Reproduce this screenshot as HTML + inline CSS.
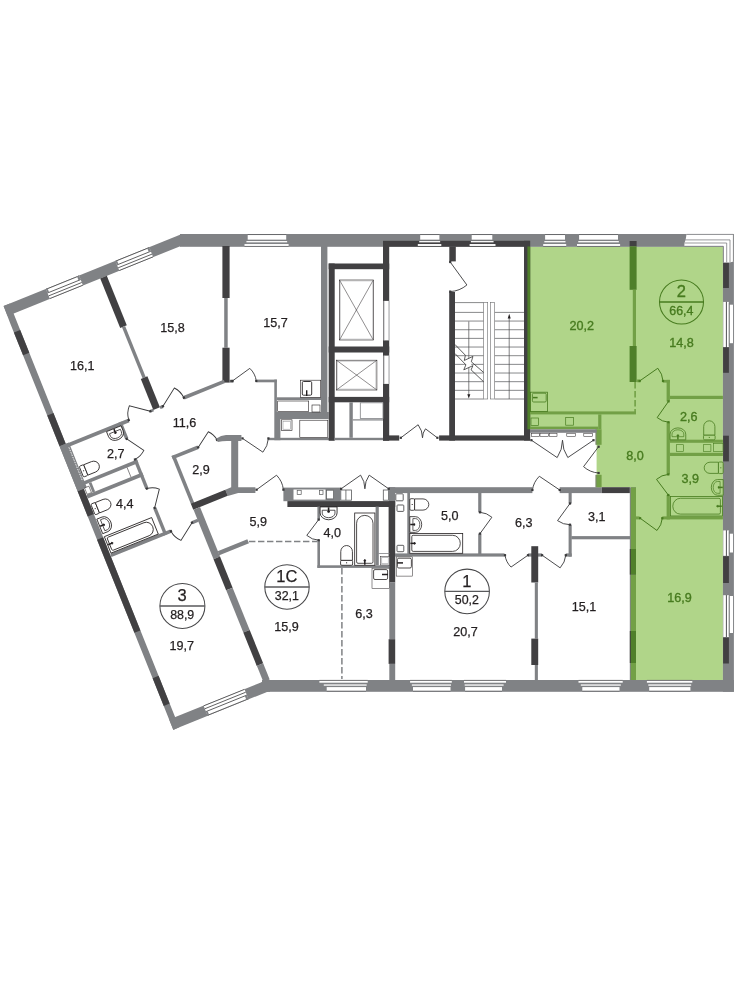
<!DOCTYPE html>
<html><head><meta charset="utf-8"><title>Floor plan</title>
<style>html,body{margin:0;padding:0;background:#fff}svg{display:block;will-change:transform}</style></head>
<body>
<svg width="741" height="1000" viewBox="0 0 741 1000" font-family="'Liberation Sans', sans-serif">
<rect width="741" height="1000" fill="#fff"/>
<polygon points="527.20,246.50 722.90,246.50 722.90,680.00 630.80,680.00 630.80,487.30 596.60,487.30 596.60,429.30 527.20,429.30" fill="#b0d589"/>
<rect x="180.00" y="234.00" width="553.90" height="12.80" fill="#808285"/>
<rect x="722.90" y="234.00" width="11.00" height="457.80" fill="#808285"/>
<rect x="262.00" y="680.00" width="471.90" height="11.80" fill="#808285"/>
<rect x="383.00" y="240.80" width="146.80" height="5.90" fill="#414042"/>
<rect x="222.40" y="246.00" width="7.20" height="52.00" fill="#414042"/>
<rect x="224.20" y="298.00" width="3.50" height="49.70" fill="#808285"/>
<rect x="222.40" y="347.70" width="7.20" height="34.90" fill="#414042"/>
<rect x="229.60" y="379.80" width="3.80" height="2.70" fill="#58595b"/>
<rect x="321.00" y="246.00" width="6.40" height="173.00" fill="#808285"/>
<rect x="274.30" y="412.00" width="54.40" height="7.00" fill="#808285"/>
<rect x="274.30" y="419.00" width="6.10" height="21.20" fill="#808285"/>
<rect x="268.20" y="437.80" width="61.30" height="2.40" fill="#808285"/>
<rect x="256.30" y="379.60" width="20.60" height="2.70" fill="#808285"/>
<rect x="274.30" y="379.60" width="2.60" height="32.40" fill="#808285"/>
<rect x="276.90" y="397.30" width="44.10" height="2.70" fill="#808285"/>
<rect x="300.60" y="380.20" width="20.10" height="17.10" fill="#fff" stroke="#231f20" stroke-width="0.60"/>
<rect x="302.30" y="381.50" width="9.40" height="13.70" fill="none" stroke="#231f20" stroke-width="0.90" rx="1.20"/>
<line x1="306.70" y1="390.20" x2="306.70" y2="396.00" stroke="#231f20" stroke-width="1.40"/>
<rect x="277.70" y="401.00" width="31.00" height="10.60" fill="#fff" stroke="#231f20" stroke-width="0.60"/>
<rect x="312.00" y="405.00" width="8.00" height="7.00" fill="#fff" stroke="#231f20" stroke-width="0.60"/>
<rect x="281.60" y="419.80" width="10.40" height="10.80" fill="#fff" stroke="#231f20" stroke-width="0.60"/>
<rect x="283.00" y="421.20" width="7.60" height="8.00" fill="none" stroke="#808285" stroke-width="0.50"/>
<rect x="299.80" y="420.20" width="28.00" height="17.20" fill="#fff" stroke="#231f20" stroke-width="0.60"/>
<rect x="328.70" y="263.50" width="6.00" height="177.30" fill="#414042"/>
<rect x="328.70" y="263.50" width="60.50" height="5.70" fill="#414042"/>
<rect x="383.00" y="241.20" width="6.20" height="199.60" fill="#414042"/>
<rect x="328.70" y="346.50" width="60.50" height="6.00" fill="#414042"/>
<rect x="328.70" y="396.90" width="60.50" height="5.40" fill="#414042"/>
<rect x="383.00" y="435.40" width="16.20" height="5.20" fill="#414042"/>
<rect x="383.60" y="300.90" width="5.60" height="39.50" fill="#fff"/>
<line x1="384.00" y1="300.90" x2="384.00" y2="340.40" stroke="#808285" stroke-width="0.60"/>
<line x1="388.90" y1="300.90" x2="388.90" y2="340.40" stroke="#808285" stroke-width="0.60"/>
<rect x="383.60" y="355.60" width="5.60" height="28.30" fill="#fff"/>
<line x1="384.00" y1="355.60" x2="384.00" y2="383.90" stroke="#808285" stroke-width="0.60"/>
<line x1="388.90" y1="355.60" x2="388.90" y2="383.90" stroke="#808285" stroke-width="0.60"/>
<rect x="339.50" y="280.00" width="33.80" height="60.00" fill="none" stroke="#231f20" stroke-width="0.60"/>
<line x1="339.50" y1="280.00" x2="373.30" y2="340.00" stroke="#231f20" stroke-width="0.50"/>
<line x1="339.50" y1="340.00" x2="373.30" y2="280.00" stroke="#231f20" stroke-width="0.50"/>
<rect x="340.50" y="281.00" width="31.80" height="58.00" fill="none" stroke="#808285" stroke-width="0.30"/>
<rect x="336.40" y="360.20" width="40.50" height="29.80" fill="none" stroke="#231f20" stroke-width="0.60"/>
<line x1="336.40" y1="360.20" x2="376.90" y2="390.00" stroke="#231f20" stroke-width="0.50"/>
<line x1="336.40" y1="390.00" x2="376.90" y2="360.20" stroke="#231f20" stroke-width="0.50"/>
<rect x="337.40" y="361.20" width="38.50" height="27.80" fill="none" stroke="#808285" stroke-width="0.30"/>
<rect x="334.80" y="437.80" width="48.20" height="2.40" fill="#808285"/>
<rect x="349.40" y="402.30" width="3.40" height="35.50" fill="#808285"/>
<rect x="360.30" y="402.80" width="22.70" height="15.70" fill="#fff" stroke="#808285" stroke-width="0.80"/>
<rect x="352.80" y="419.30" width="30.20" height="1.20" fill="#808285"/>
<rect x="449.30" y="246.50" width="6.50" height="14.90" fill="#414042"/>
<rect x="449.20" y="292.00" width="5.80" height="148.60" fill="#414042"/>
<rect x="439.10" y="435.40" width="90.90" height="5.20" fill="#414042"/>
<rect x="524.00" y="240.80" width="6.20" height="199.80" fill="#414042"/>
<rect x="527.40" y="246.50" width="2.80" height="182.80" fill="#4f7f2a"/>
<line x1="455.00" y1="302.60" x2="483.70" y2="302.60" stroke="#6a6b6d" stroke-width="0.80"/>
<line x1="455.00" y1="312.40" x2="483.70" y2="312.40" stroke="#6a6b6d" stroke-width="0.80"/>
<line x1="455.00" y1="321.06" x2="483.70" y2="321.06" stroke="#6a6b6d" stroke-width="0.80"/>
<line x1="455.00" y1="329.72" x2="483.70" y2="329.72" stroke="#6a6b6d" stroke-width="0.80"/>
<line x1="455.00" y1="338.38" x2="483.70" y2="338.38" stroke="#6a6b6d" stroke-width="0.80"/>
<line x1="455.00" y1="347.04" x2="483.70" y2="347.04" stroke="#6a6b6d" stroke-width="0.80"/>
<line x1="455.00" y1="355.70" x2="483.70" y2="355.70" stroke="#6a6b6d" stroke-width="0.80"/>
<line x1="455.00" y1="364.36" x2="483.70" y2="364.36" stroke="#6a6b6d" stroke-width="0.80"/>
<line x1="455.00" y1="373.02" x2="483.70" y2="373.02" stroke="#6a6b6d" stroke-width="0.80"/>
<line x1="455.00" y1="381.68" x2="483.70" y2="381.68" stroke="#6a6b6d" stroke-width="0.80"/>
<line x1="455.00" y1="390.34" x2="483.70" y2="390.34" stroke="#6a6b6d" stroke-width="0.80"/>
<line x1="455.00" y1="399.00" x2="483.70" y2="399.00" stroke="#6a6b6d" stroke-width="0.80"/>
<line x1="494.60" y1="312.40" x2="524.00" y2="312.40" stroke="#6a6b6d" stroke-width="0.80"/>
<line x1="494.60" y1="321.06" x2="524.00" y2="321.06" stroke="#6a6b6d" stroke-width="0.80"/>
<line x1="494.60" y1="329.72" x2="524.00" y2="329.72" stroke="#6a6b6d" stroke-width="0.80"/>
<line x1="494.60" y1="338.38" x2="524.00" y2="338.38" stroke="#6a6b6d" stroke-width="0.80"/>
<line x1="494.60" y1="347.04" x2="524.00" y2="347.04" stroke="#6a6b6d" stroke-width="0.80"/>
<line x1="494.60" y1="355.70" x2="524.00" y2="355.70" stroke="#6a6b6d" stroke-width="0.80"/>
<line x1="494.60" y1="364.36" x2="524.00" y2="364.36" stroke="#6a6b6d" stroke-width="0.80"/>
<line x1="494.60" y1="373.02" x2="524.00" y2="373.02" stroke="#6a6b6d" stroke-width="0.80"/>
<line x1="494.60" y1="381.68" x2="524.00" y2="381.68" stroke="#6a6b6d" stroke-width="0.80"/>
<line x1="494.60" y1="390.34" x2="524.00" y2="390.34" stroke="#6a6b6d" stroke-width="0.80"/>
<line x1="494.60" y1="399.00" x2="524.00" y2="399.00" stroke="#6a6b6d" stroke-width="0.80"/>
<rect x="483.70" y="302.60" width="4.00" height="96.40" fill="#fff" stroke="#6a6b6d" stroke-width="0.60"/>
<rect x="490.40" y="302.60" width="4.20" height="96.40" fill="#fff" stroke="#6a6b6d" stroke-width="0.60"/>
<line x1="468.80" y1="321.40" x2="468.80" y2="396.00" stroke="#4d4d4f" stroke-width="0.70"/>
<polygon points="467.30,394.30 470.30,394.30 468.80,398.40" fill="#231f20"/>
<line x1="509.20" y1="317.00" x2="509.20" y2="399.00" stroke="#4d4d4f" stroke-width="0.70"/>
<polygon points="507.70,318.40 510.70,318.40 509.20,313.80" fill="#231f20"/>
<polygon points="465.40,355.26 464.27,360.45 472.94,356.40 471.32,361.74 471.07,369.84 472.94,365.63 463.79,369.84 465.89,364.82" fill="#fff"/>
<path d="M454.88 344.41 L465.40 355.26 L464.27 360.45 L472.94 356.40 L471.32 361.74 L483.70 372.51" fill="none" stroke="#333" stroke-width="0.80"/>
<path d="M454.88 353.48 L465.89 364.82 L463.79 369.84 L472.94 365.63 L471.07 369.84 L483.70 381.82" fill="none" stroke="#333" stroke-width="0.80"/>
<path d="M450.20 262.00 L466.90 284.99 A28.42 28.42 0 0 1 450.20 291.60" fill="none" stroke="#38383a" stroke-width="0.90"/>
<rect x="449.10" y="260.90" width="2.20" height="2.20" fill="#38383a"/>
<rect x="449.10" y="290.50" width="2.20" height="2.20" fill="#38383a"/>
<polygon points="225.30,489.80 231.20,487.20 255.40,487.20 255.40,493.10 238.20,493.10 227.75,495.90" fill="#808285"/>
<rect x="231.20" y="435.10" width="7.00" height="55.90" fill="#808285"/>
<rect x="283.40" y="487.60" width="57.10" height="13.60" fill="#808285"/>
<rect x="293.50" y="489.50" width="32.00" height="10.10" fill="#fff"/>
<rect x="297.20" y="490.30" width="4.00" height="4.20" fill="#fff" stroke="#58595b" stroke-width="0.70"/>
<rect x="319.40" y="490.30" width="3.60" height="4.20" fill="#fff" stroke="#58595b" stroke-width="0.70"/>
<rect x="326.60" y="490.20" width="7.00" height="8.70" fill="#fff" stroke="#58595b" stroke-width="0.70"/>
<rect x="340.80" y="490.00" width="10.80" height="10.20" fill="#fff" stroke="#58595b" stroke-width="0.80"/>
<line x1="345.90" y1="490.00" x2="345.90" y2="500.20" stroke="#58595b" stroke-width="0.80"/>
<rect x="383.30" y="490.00" width="5.10" height="10.20" fill="#fff" stroke="#58595b" stroke-width="0.80"/>
<rect x="388.70" y="487.20" width="143.70" height="5.90" fill="#808285"/>
<rect x="559.70" y="487.20" width="42.10" height="5.90" fill="#808285"/>
<rect x="601.80" y="487.20" width="28.10" height="5.90" fill="#414042"/>
<rect x="287.40" y="501.10" width="107.80" height="5.90" fill="#414042"/>
<rect x="388.60" y="487.20" width="6.60" height="13.90" fill="#808285"/>
<rect x="388.60" y="501.10" width="6.60" height="81.40" fill="#414042"/>
<rect x="389.30" y="582.50" width="5.90" height="56.70" fill="#808285"/>
<rect x="388.60" y="639.20" width="6.60" height="24.70" fill="#414042"/>
<rect x="389.30" y="663.90" width="5.90" height="17.10" fill="#808285"/>
<rect x="317.40" y="506.60" width="2.60" height="13.10" fill="#808285"/>
<rect x="317.40" y="540.00" width="2.60" height="27.90" fill="#808285"/>
<rect x="317.40" y="565.30" width="72.10" height="2.60" fill="#808285"/>
<rect x="375.60" y="506.60" width="3.20" height="58.70" fill="#808285"/>
<line x1="249.00" y1="541.60" x2="317.40" y2="541.60" stroke="#808285" stroke-width="1.50" stroke-dasharray="6.4 2.6"/>
<line x1="341.90" y1="568.00" x2="341.90" y2="679.00" stroke="#808285" stroke-width="1.50" stroke-dasharray="6.4 2.6"/>
<rect x="407.30" y="492.60" width="2.70" height="63.40" fill="#808285"/>
<rect x="478.20" y="492.60" width="3.20" height="19.70" fill="#808285"/>
<rect x="478.20" y="533.60" width="3.20" height="22.40" fill="#808285"/>
<rect x="395.00" y="553.40" width="109.50" height="3.20" fill="#808285"/>
<rect x="528.00" y="553.40" width="14.10" height="3.20" fill="#808285"/>
<rect x="565.80" y="553.40" width="5.90" height="3.20" fill="#808285"/>
<rect x="568.60" y="492.40" width="3.10" height="11.10" fill="#808285"/>
<rect x="568.60" y="524.70" width="3.10" height="31.90" fill="#808285"/>
<rect x="571.30" y="536.10" width="58.70" height="3.20" fill="#808285"/>
<rect x="531.30" y="546.20" width="6.90" height="36.30" fill="#414042"/>
<rect x="534.80" y="582.50" width="3.10" height="56.10" fill="#808285"/>
<rect x="531.30" y="638.60" width="6.90" height="26.40" fill="#414042"/>
<rect x="534.80" y="665.00" width="3.10" height="16.00" fill="#808285"/>
<rect x="629.60" y="241.00" width="7.00" height="5.30" fill="#414042"/>
<rect x="629.60" y="246.30" width="7.00" height="43.50" fill="#4f7f2a"/>
<rect x="632.80" y="289.80" width="3.20" height="56.20" fill="#72a046"/>
<rect x="629.60" y="346.00" width="7.00" height="36.00" fill="#4f7f2a"/>
<line x1="635.10" y1="382.00" x2="635.10" y2="412.00" stroke="#72a046" stroke-width="1.60" stroke-dasharray="6.4 2.6"/>
<rect x="530.00" y="411.40" width="106.00" height="3.00" fill="#72a046"/>
<rect x="598.20" y="414.40" width="3.20" height="14.90" fill="#72a046"/>
<rect x="595.40" y="429.30" width="1.60" height="15.50" fill="#7c8a6c"/>
<rect x="596.60" y="429.30" width="5.00" height="15.50" fill="#72a046"/>
<rect x="595.40" y="474.80" width="1.60" height="12.50" fill="#7c8a6c"/>
<rect x="596.60" y="474.80" width="5.00" height="12.50" fill="#72a046"/>
<rect x="530.00" y="426.60" width="68.20" height="2.70" fill="#72a046"/>
<rect x="530.00" y="429.30" width="66.60" height="3.50" fill="#808285"/>
<rect x="662.90" y="379.90" width="7.10" height="2.70" fill="#72a046"/>
<rect x="666.60" y="379.90" width="3.30" height="21.50" fill="#72a046"/>
<rect x="666.60" y="422.20" width="3.30" height="52.20" fill="#72a046"/>
<rect x="666.60" y="495.00" width="3.30" height="24.40" fill="#72a046"/>
<rect x="636.60" y="379.50" width="3.80" height="2.70" fill="#72a046"/>
<rect x="669.90" y="395.80" width="53.00" height="3.20" fill="#72a046"/>
<rect x="669.90" y="439.70" width="53.00" height="3.10" fill="#72a046"/>
<rect x="669.90" y="452.80" width="53.00" height="3.20" fill="#72a046"/>
<rect x="662.30" y="516.40" width="60.60" height="3.00" fill="#72a046"/>
<rect x="636.00" y="516.40" width="3.60" height="3.00" fill="#72a046"/>
<rect x="629.80" y="487.30" width="6.20" height="192.70" fill="#808285"/>
<rect x="629.80" y="549.00" width="6.20" height="25.60" fill="#414042"/>
<rect x="629.80" y="631.00" width="6.20" height="32.00" fill="#414042"/>
<rect x="630.80" y="487.30" width="5.20" height="61.70" fill="#72a046"/>
<rect x="630.80" y="549.00" width="5.20" height="25.60" fill="#4f7f2a"/>
<rect x="630.80" y="574.60" width="5.20" height="56.40" fill="#72a046"/>
<rect x="630.80" y="631.00" width="5.20" height="32.00" fill="#4f7f2a"/>
<rect x="630.80" y="663.00" width="5.20" height="17.00" fill="#72a046"/>
<rect x="723.10" y="262.60" width="5.80" height="25.40" fill="#414042"/>
<rect x="723.10" y="347.10" width="5.80" height="25.70" fill="#414042"/>
<rect x="723.10" y="435.70" width="5.80" height="25.70" fill="#414042"/>
<rect x="723.10" y="556.20" width="5.80" height="26.80" fill="#414042"/>
<rect x="723.10" y="637.60" width="5.80" height="25.90" fill="#414042"/>
<rect x="244.50" y="244.05" width="44.10" height="1.95" fill="#fff"/>
<rect x="246.42" y="241.05" width="40.74" height="1.30" fill="#fff"/>
<rect x="247.70" y="235.00" width="38.50" height="4.65" fill="#fff"/>
<line x1="244.50" y1="246.40" x2="288.60" y2="246.40" stroke="#58595b" stroke-width="0.60"/>
<line x1="247.70" y1="234.55" x2="286.20" y2="234.55" stroke="#58595b" stroke-width="0.60"/>
<rect x="417.80" y="244.05" width="23.50" height="1.95" fill="#fff"/>
<rect x="419.24" y="241.05" width="20.92" height="1.30" fill="#fff"/>
<rect x="420.20" y="235.00" width="19.20" height="4.65" fill="#fff"/>
<line x1="417.80" y1="246.40" x2="441.30" y2="246.40" stroke="#58595b" stroke-width="0.60"/>
<line x1="420.20" y1="234.55" x2="439.40" y2="234.55" stroke="#58595b" stroke-width="0.60"/>
<rect x="469.60" y="244.05" width="25.90" height="1.95" fill="#fff"/>
<rect x="470.86" y="241.05" width="22.72" height="1.30" fill="#fff"/>
<rect x="471.70" y="235.00" width="20.60" height="4.65" fill="#fff"/>
<line x1="469.60" y1="246.40" x2="495.50" y2="246.40" stroke="#58595b" stroke-width="0.60"/>
<line x1="471.70" y1="234.55" x2="492.30" y2="234.55" stroke="#58595b" stroke-width="0.60"/>
<rect x="543.20" y="244.05" width="23.00" height="1.95" fill="#fff"/>
<rect x="544.34" y="241.05" width="21.14" height="1.30" fill="#fff"/>
<rect x="545.10" y="235.00" width="19.90" height="4.65" fill="#fff"/>
<line x1="543.20" y1="246.40" x2="566.20" y2="246.40" stroke="#58595b" stroke-width="0.60"/>
<line x1="545.10" y1="234.55" x2="565.00" y2="234.55" stroke="#58595b" stroke-width="0.60"/>
<rect x="577.00" y="244.05" width="43.10" height="1.95" fill="#fff"/>
<rect x="578.26" y="241.05" width="40.58" height="1.30" fill="#fff"/>
<rect x="579.10" y="235.00" width="38.90" height="4.65" fill="#fff"/>
<line x1="577.00" y1="246.40" x2="620.10" y2="246.40" stroke="#58595b" stroke-width="0.60"/>
<line x1="579.10" y1="234.55" x2="618.00" y2="234.55" stroke="#58595b" stroke-width="0.60"/>
<rect x="319.40" y="680.75" width="48.30" height="1.95" fill="#fff"/>
<rect x="323.78" y="684.40" width="42.90" height="1.30" fill="#fff"/>
<rect x="326.70" y="687.10" width="39.30" height="3.70" fill="#fff"/>
<line x1="319.40" y1="680.35" x2="367.70" y2="680.35" stroke="#58595b" stroke-width="0.60"/>
<line x1="326.70" y1="691.25" x2="366.00" y2="691.25" stroke="#58595b" stroke-width="0.60"/>
<rect x="410.10" y="680.75" width="41.70" height="1.95" fill="#fff"/>
<rect x="411.84" y="684.40" width="39.18" height="1.30" fill="#fff"/>
<rect x="413.00" y="687.10" width="37.50" height="3.70" fill="#fff"/>
<line x1="410.10" y1="680.35" x2="451.80" y2="680.35" stroke="#58595b" stroke-width="0.60"/>
<line x1="413.00" y1="691.25" x2="450.50" y2="691.25" stroke="#58595b" stroke-width="0.60"/>
<rect x="464.00" y="680.75" width="42.00" height="1.95" fill="#fff"/>
<rect x="464.66" y="684.40" width="38.94" height="1.30" fill="#fff"/>
<rect x="465.10" y="687.10" width="36.90" height="3.70" fill="#fff"/>
<line x1="464.00" y1="680.35" x2="506.00" y2="680.35" stroke="#58595b" stroke-width="0.60"/>
<line x1="465.10" y1="691.25" x2="502.00" y2="691.25" stroke="#58595b" stroke-width="0.60"/>
<rect x="578.50" y="680.75" width="44.20" height="1.95" fill="#fff"/>
<rect x="580.78" y="684.40" width="40.00" height="1.30" fill="#fff"/>
<rect x="582.30" y="687.10" width="37.20" height="3.70" fill="#fff"/>
<line x1="578.50" y1="680.35" x2="622.70" y2="680.35" stroke="#58595b" stroke-width="0.60"/>
<line x1="582.30" y1="691.25" x2="619.50" y2="691.25" stroke="#58595b" stroke-width="0.60"/>
<rect x="646.90" y="680.75" width="45.40" height="1.95" fill="#fff"/>
<rect x="648.28" y="684.40" width="42.88" height="1.30" fill="#fff"/>
<rect x="649.20" y="687.10" width="41.20" height="3.70" fill="#fff"/>
<line x1="646.90" y1="680.35" x2="692.30" y2="680.35" stroke="#58595b" stroke-width="0.60"/>
<line x1="649.20" y1="691.25" x2="690.40" y2="691.25" stroke="#58595b" stroke-width="0.60"/>
<rect x="723.30" y="301.90" width="2.60" height="45.20" fill="#fff"/>
<rect x="727.00" y="301.90" width="1.80" height="45.20" fill="#fff"/>
<rect x="729.70" y="304.70" width="3.50" height="38.50" fill="#fff"/>
<line x1="726.45" y1="301.90" x2="726.45" y2="347.10" stroke="#4d4d4f" stroke-width="0.60"/>
<line x1="729.20" y1="302.90" x2="729.20" y2="346.10" stroke="#6d6e71" stroke-width="0.50"/>
<line x1="733.55" y1="304.70" x2="733.55" y2="343.20" stroke="#6d6e71" stroke-width="0.50"/>
<rect x="723.30" y="530.40" width="2.60" height="25.40" fill="#fff"/>
<rect x="727.00" y="530.40" width="1.80" height="25.40" fill="#fff"/>
<rect x="729.70" y="533.70" width="3.50" height="18.80" fill="#fff"/>
<line x1="726.45" y1="530.40" x2="726.45" y2="555.80" stroke="#4d4d4f" stroke-width="0.60"/>
<line x1="729.20" y1="531.40" x2="729.20" y2="554.80" stroke="#6d6e71" stroke-width="0.50"/>
<line x1="733.55" y1="533.70" x2="733.55" y2="552.50" stroke="#6d6e71" stroke-width="0.50"/>
<rect x="723.30" y="595.20" width="2.60" height="41.80" fill="#fff"/>
<rect x="727.00" y="595.20" width="1.80" height="41.80" fill="#fff"/>
<rect x="729.70" y="596.00" width="3.50" height="37.00" fill="#fff"/>
<line x1="726.45" y1="595.20" x2="726.45" y2="637.00" stroke="#4d4d4f" stroke-width="0.60"/>
<line x1="729.20" y1="596.20" x2="729.20" y2="636.00" stroke="#6d6e71" stroke-width="0.50"/>
<line x1="733.55" y1="596.00" x2="733.55" y2="633.00" stroke="#6d6e71" stroke-width="0.50"/>
<polygon points="684.40,246.30 684.40,243.00 685.60,240.00 686.50,234.30 733.50,234.30 733.50,261.50 729.80,262.40 723.40,262.40 723.40,246.30" fill="#fff"/>
<path d="M686.5 234.4 H733.4 V261.5" fill="none" stroke="#6d6e71" stroke-width="0.70"/>
<path d="M685.6 239.9 H730 V262.4" fill="none" stroke="#6d6e71" stroke-width="0.70"/>
<path d="M684.4 243 H726.7 V262.4" fill="none" stroke="#6d6e71" stroke-width="0.70"/>
<path d="M684.4 246.3 H723.4 V262.4" fill="none" stroke="#6d6e71" stroke-width="0.70"/>
<g transform="translate(3.6 306) rotate(-22)">
<rect x="0.00" y="0.00" width="191.60" height="10.70" fill="#808285"/>
<polygon points="0.00,0.00 7.00,0.00 6.46,10.70 5.00,445.40 5.00,456.30 -1.40,456.60 -0.35,20.00" fill="#808285"/>
<rect x="-1.40" y="445.40" width="102.40" height="11.10" fill="#808285"/>
<polygon points="-0.37,28.40 6.40,28.40 6.32,53.00 -0.43,53.00" fill="#414042"/>
<polygon points="-0.58,118.00 6.10,118.00 5.99,151.00 -0.66,151.00" fill="#414042"/>
<polygon points="-0.78,199.40 5.83,199.40 5.74,226.60 -0.85,226.60" fill="#414042"/>
<polygon points="-0.91,251.70 5.65,251.70 5.31,352.00 -1.15,352.00" fill="#414042"/>
<polygon points="-1.27,401.00 5.15,401.00 5.05,430.80 -1.34,430.80" fill="#414042"/>
<polygon points="-0.66,151.00 9.40,151.00 9.20,199.40 -0.78,199.40" fill="#808285"/>
<line x1="7.60" y1="155.50" x2="7.60" y2="192.00" stroke="#fff" stroke-width="0.80" stroke-dasharray="1.5 1.1"/>
<rect x="99.90" y="10.70" width="7.10" height="53.30" fill="#414042"/>
<rect x="101.80" y="64.00" width="3.40" height="55.00" fill="#808285"/>
<rect x="99.90" y="119.00" width="7.10" height="33.40" fill="#414042"/>
<rect x="99.50" y="202.00" width="3.60" height="52.00" fill="#808285"/>
<rect x="99.50" y="253.50" width="37.20" height="6.50" fill="#414042"/>
<rect x="99.80" y="260.00" width="7.00" height="53.40" fill="#808285"/>
<rect x="99.80" y="313.40" width="7.00" height="33.60" fill="#414042"/>
<rect x="99.90" y="347.00" width="6.90" height="45.60" fill="#808285"/>
<rect x="99.90" y="392.60" width="6.90" height="35.90" fill="#414042"/>
<rect x="100.00" y="428.50" width="6.80" height="17.50" fill="#808285"/>
<rect x="6.00" y="151.20" width="67.20" height="3.80" fill="#808285"/>
<rect x="62.80" y="151.20" width="3.40" height="18.10" fill="#808285"/>
<rect x="62.80" y="191.50" width="3.40" height="31.50" fill="#808285"/>
<rect x="6.00" y="192.40" width="60.20" height="3.60" fill="#808285"/>
<rect x="6.00" y="206.20" width="60.20" height="3.80" fill="#808285"/>
<rect x="62.80" y="243.80" width="3.40" height="29.20" fill="#808285"/>
<rect x="6.00" y="269.60" width="64.80" height="3.60" fill="#808285"/>
<rect x="93.50" y="269.80" width="6.50" height="3.40" fill="#808285"/>
<rect x="96.60" y="151.20" width="3.40" height="2.80" fill="#808285"/>
<rect x="132.80" y="150.80" width="43.70" height="3.60" fill="#808285"/>
<rect x="106.90" y="151.20" width="3.30" height="3.20" fill="#808285"/>
<rect x="99.50" y="202.00" width="27.90" height="3.60" fill="#808285"/>
<rect x="106.60" y="307.60" width="32.00" height="4.40" fill="#808285"/>
<rect x="6.90" y="199.00" width="4.70" height="6.90" fill="#fff" stroke="#231f20" stroke-width="0.50"/>
<rect x="12.60" y="196.00" width="2.80" height="10.20" fill="#808285"/>
<line x1="54.00" y1="196.00" x2="54.00" y2="206.20" stroke="#231f20" stroke-width="0.50"/>
<rect x="45.60" y="0.30" width="35.70" height="10.20" fill="#fff"/>
<line x1="45.60" y1="0.40" x2="81.30" y2="0.40" stroke="#4d4d4f" stroke-width="0.80"/>
<line x1="45.60" y1="4.40" x2="81.30" y2="4.40" stroke="#4d4d4f" stroke-width="0.80"/>
<line x1="45.60" y1="7.50" x2="81.30" y2="7.50" stroke="#4d4d4f" stroke-width="0.80"/>
<line x1="45.60" y1="10.40" x2="81.30" y2="10.40" stroke="#4d4d4f" stroke-width="0.80"/>
<rect x="45.50" y="0.00" width="1.80" height="4.40" fill="#808285"/>
<rect x="79.10" y="0.00" width="2.30" height="4.40" fill="#808285"/>
<rect x="120.50" y="0.30" width="36.50" height="10.20" fill="#fff"/>
<line x1="120.50" y1="0.40" x2="157.00" y2="0.40" stroke="#4d4d4f" stroke-width="0.80"/>
<line x1="120.50" y1="4.40" x2="157.00" y2="4.40" stroke="#4d4d4f" stroke-width="0.80"/>
<line x1="120.50" y1="7.50" x2="157.00" y2="7.50" stroke="#4d4d4f" stroke-width="0.80"/>
<line x1="120.50" y1="10.40" x2="157.00" y2="10.40" stroke="#4d4d4f" stroke-width="0.80"/>
<rect x="120.40" y="0.00" width="1.80" height="4.40" fill="#808285"/>
<rect x="154.80" y="0.00" width="2.30" height="4.40" fill="#808285"/>
<rect x="35.70" y="445.60" width="44.10" height="10.40" fill="#fff"/>
<line x1="35.70" y1="455.90" x2="79.80" y2="455.90" stroke="#4d4d4f" stroke-width="0.80"/>
<line x1="35.70" y1="451.90" x2="79.80" y2="451.90" stroke="#4d4d4f" stroke-width="0.80"/>
<line x1="35.70" y1="448.80" x2="79.80" y2="448.80" stroke="#4d4d4f" stroke-width="0.80"/>
<line x1="35.70" y1="445.70" x2="79.80" y2="445.70" stroke="#4d4d4f" stroke-width="0.80"/>
<rect x="35.60" y="451.90" width="1.80" height="4.40" fill="#808285"/>
<rect x="77.60" y="451.90" width="2.30" height="4.40" fill="#808285"/>
<path d="M96.60 152.60 L79.29 139.56 A21.67 21.67 0 0 0 73.30 152.60" fill="none" stroke="#38383a" stroke-width="0.90"/>
<rect x="95.50" y="151.50" width="2.20" height="2.20" fill="#38383a"/>
<rect x="72.20" y="151.50" width="2.20" height="2.20" fill="#38383a"/>
<path d="M110.20 152.60 L127.57 139.98 A21.47 21.47 0 0 1 132.80 152.60" fill="none" stroke="#38383a" stroke-width="0.90"/>
<rect x="109.10" y="151.50" width="2.20" height="2.20" fill="#38383a"/>
<rect x="131.70" y="151.50" width="2.20" height="2.20" fill="#38383a"/>
<path d="M64.40 169.30 L75.95 186.42 A20.65 20.65 0 0 1 64.40 191.50" fill="none" stroke="#38383a" stroke-width="0.90"/>
<rect x="63.30" y="168.20" width="2.20" height="2.20" fill="#38383a"/>
<rect x="63.30" y="190.40" width="2.20" height="2.20" fill="#38383a"/>
<path d="M64.40 243.80 L75.77 228.15 A19.34 19.34 0 0 0 64.40 223.00" fill="none" stroke="#38383a" stroke-width="0.90"/>
<rect x="63.30" y="242.70" width="2.20" height="2.20" fill="#38383a"/>
<rect x="63.30" y="221.90" width="2.20" height="2.20" fill="#38383a"/>
<path d="M93.50 271.50 L76.60 283.78 A20.88 20.88 0 0 1 70.80 271.50" fill="none" stroke="#38383a" stroke-width="0.90"/>
<rect x="92.40" y="270.40" width="2.20" height="2.20" fill="#38383a"/>
<rect x="69.70" y="270.40" width="2.20" height="2.20" fill="#38383a"/>
<path d="M127.40 204.00 L142.70 193.29 A18.68 18.68 0 0 1 147.70 204.00" fill="none" stroke="#38383a" stroke-width="0.90"/>
<rect x="126.30" y="202.90" width="2.20" height="2.20" fill="#38383a"/>
<rect x="146.60" y="202.90" width="2.20" height="2.20" fill="#38383a"/>
<g transform="translate(56.20 155.00) rotate(0)">
<path d="M-7.85 0 V5.6 A7.85 6.3 0 0 0 7.85 5.6 V0 Z" fill="#fff" stroke="#231f20" stroke-width="0.80"/>
<path d="M-5.9 3.1 V5.8 A5.9 4.2 0 0 0 5.9 5.8 V3.1 Z" fill="none" stroke="#231f20" stroke-width="0.70"/>
<line x1="0.00" y1="0.40" x2="0.00" y2="5.40" stroke="#231f20" stroke-width="1.50"/>
<line x1="-1.30" y1="4.40" x2="1.30" y2="4.40" stroke="#231f20" stroke-width="1.00"/>
</g>
<g transform="translate(10.00 182.80) rotate(-90)">
<rect x="-5.80" y="0.00" width="11.60" height="4.80" fill="#fff" stroke="#231f20" stroke-width="0.80" rx="1.20"/>
<path d="M-5.6 4.8 V13.2 A5.6 5.8 0 0 0 5.6 13.2 V4.8 Z" fill="#fff" stroke="#231f20" stroke-width="0.80"/>
<rect x="-0.50" y="1.90" width="1.00" height="1.00" fill="#231f20"/>
</g>
<g transform="translate(6.60 222.20) rotate(-90)">
<rect x="-5.80" y="0.00" width="11.60" height="4.80" fill="#fff" stroke="#231f20" stroke-width="0.80" rx="1.20"/>
<path d="M-5.6 4.8 V13.2 A5.6 5.8 0 0 0 5.6 13.2 V4.8 Z" fill="#fff" stroke="#231f20" stroke-width="0.80"/>
<rect x="-0.50" y="1.90" width="1.00" height="1.00" fill="#231f20"/>
</g>
<g transform="translate(6.60 240.40) rotate(-90)">
<path d="M-7.85 0 V5.6 A7.85 6.3 0 0 0 7.85 5.6 V0 Z" fill="#fff" stroke="#231f20" stroke-width="0.80"/>
<path d="M-5.9 3.1 V5.8 A5.9 4.2 0 0 0 5.9 5.8 V3.1 Z" fill="none" stroke="#231f20" stroke-width="0.70"/>
<line x1="0.00" y1="0.40" x2="0.00" y2="5.40" stroke="#231f20" stroke-width="1.50"/>
<line x1="-1.30" y1="4.40" x2="1.30" y2="4.40" stroke="#231f20" stroke-width="1.00"/>
</g>
<g transform="translate(7.00 251.60) rotate(0)">
<rect x="0.00" y="0.00" width="51.00" height="17.80" fill="#fff" stroke="#231f20" stroke-width="0.80"/>
<path d="M3.4 1.9 H41.95 A6.65 7.00 0 0 1 41.95 15.90 H3.4 A1.4 1.4 0 0 1 2 14.50 V3.3 A1.4 1.4 0 0 1 3.4 1.9 Z" fill="none" stroke="#231f20" stroke-width="0.80"/>
<line x1="0.60" y1="8.90" x2="6.00" y2="8.90" stroke="#231f20" stroke-width="1.50"/>
<line x1="4.60" y1="7.60" x2="4.60" y2="10.20" stroke="#231f20" stroke-width="1.00"/>
</g>
</g>
<path d="M216.4 438.4 Q221 435.4 226 435.1 L241.4 435.1 L241.4 441 L227 441 Q222 441.1 217.7 442 Z" fill="#808285" stroke="#808285" stroke-width="0.00"/>
<polygon points="256.00,686.00 263.40,681.30 270.00,681.00 270.00,691.80 262.00,691.80" fill="#808285"/>
<path d="M232.40 381.00 L249.80 368.36 A21.51 21.51 0 0 1 256.30 381.00" fill="none" stroke="#38383a" stroke-width="0.90"/>
<rect x="231.30" y="379.90" width="2.20" height="2.20" fill="#38383a"/>
<rect x="255.20" y="379.90" width="2.20" height="2.20" fill="#38383a"/>
<path d="M242.50 438.40 L262.90 452.16 A24.60 24.60 0 0 0 268.40 438.40" fill="none" stroke="#38383a" stroke-width="0.90"/>
<rect x="241.40" y="437.30" width="2.20" height="2.20" fill="#38383a"/>
<rect x="267.30" y="437.30" width="2.20" height="2.20" fill="#38383a"/>
<path d="M256.60 489.70 L276.55 475.21 A24.66 24.66 0 0 1 283.40 489.70" fill="none" stroke="#38383a" stroke-width="0.90"/>
<rect x="255.50" y="488.60" width="2.20" height="2.20" fill="#38383a"/>
<rect x="282.30" y="488.60" width="2.20" height="2.20" fill="#38383a"/>
<path d="M341.10 488.80 L360.60 475.15 A23.80 23.80 0 0 1 364.90 488.80" fill="none" stroke="#38383a" stroke-width="0.90"/>
<rect x="340.00" y="487.70" width="2.20" height="2.20" fill="#38383a"/>
<path d="M388.70 488.80 L369.20 475.15 A23.80 23.80 0 0 0 364.90 488.80" fill="none" stroke="#38383a" stroke-width="0.90"/>
<rect x="387.60" y="487.70" width="2.20" height="2.20" fill="#38383a"/>
<path d="M400.80 437.80 L418.13 424.74 A21.70 21.70 0 0 1 422.50 437.80" fill="none" stroke="#38383a" stroke-width="0.90"/>
<rect x="399.70" y="436.70" width="2.20" height="2.20" fill="#38383a"/>
<path d="M437.40 437.80 L425.50 428.83 A14.90 14.90 0 0 0 422.50 437.80" fill="none" stroke="#38383a" stroke-width="0.90"/>
<rect x="436.30" y="436.70" width="2.20" height="2.20" fill="#38383a"/>
<path d="M531.40 440.20 L557.18 457.59 A31.10 31.10 0 0 0 562.50 440.20" fill="none" stroke="#38383a" stroke-width="0.90"/>
<rect x="530.30" y="439.10" width="2.20" height="2.20" fill="#38383a"/>
<path d="M593.50 440.20 L567.80 457.53 A31.00 31.00 0 0 1 562.50 440.20" fill="none" stroke="#38383a" stroke-width="0.90"/>
<rect x="592.40" y="439.10" width="2.20" height="2.20" fill="#38383a"/>
<path d="M598.60 446.70 L583.56 466.65 A24.99 24.99 0 0 0 598.60 473.00" fill="none" stroke="#3a3a3a" stroke-width="0.90"/>
<rect x="597.50" y="445.60" width="2.20" height="2.20" fill="#3a3a3a"/>
<rect x="597.50" y="471.90" width="2.20" height="2.20" fill="#3a3a3a"/>
<path d="M559.70 490.00 L539.33 476.26 A24.57 24.57 0 0 0 532.40 490.00" fill="none" stroke="#38383a" stroke-width="0.90"/>
<rect x="558.60" y="488.90" width="2.20" height="2.20" fill="#38383a"/>
<rect x="531.30" y="488.90" width="2.20" height="2.20" fill="#38383a"/>
<path d="M570.00 503.50 L557.54 520.65 A21.20 21.20 0 0 0 570.00 524.70" fill="none" stroke="#38383a" stroke-width="0.90"/>
<rect x="568.90" y="502.40" width="2.20" height="2.20" fill="#38383a"/>
<rect x="568.90" y="523.60" width="2.20" height="2.20" fill="#38383a"/>
<path d="M480.00 533.60 L491.89 517.23 A20.24 20.24 0 0 0 480.00 512.30" fill="none" stroke="#38383a" stroke-width="0.90"/>
<rect x="478.90" y="532.50" width="2.20" height="2.20" fill="#38383a"/>
<rect x="478.90" y="511.20" width="2.20" height="2.20" fill="#38383a"/>
<path d="M528.00 555.20 L511.04 567.07 A20.70 20.70 0 0 1 505.00 555.20" fill="none" stroke="#38383a" stroke-width="0.90"/>
<rect x="526.90" y="554.10" width="2.20" height="2.20" fill="#38383a"/>
<rect x="503.90" y="554.10" width="2.20" height="2.20" fill="#38383a"/>
<path d="M542.10 555.20 L560.15 567.84 A22.04 22.04 0 0 0 565.80 555.20" fill="none" stroke="#38383a" stroke-width="0.90"/>
<rect x="541.00" y="554.10" width="2.20" height="2.20" fill="#38383a"/>
<rect x="564.70" y="554.10" width="2.20" height="2.20" fill="#38383a"/>
<path d="M639.60 381.00 L657.81 368.25 A22.23 22.23 0 0 1 663.00 381.00" fill="none" stroke="#477b1f" stroke-width="1.00"/>
<rect x="638.50" y="379.90" width="2.20" height="2.20" fill="#477b1f"/>
<rect x="661.90" y="379.90" width="2.20" height="2.20" fill="#477b1f"/>
<path d="M668.50 401.40 L657.17 417.59 A19.76 19.76 0 0 0 668.50 422.20" fill="none" stroke="#477b1f" stroke-width="1.00"/>
<rect x="667.40" y="400.30" width="2.20" height="2.20" fill="#477b1f"/>
<rect x="667.40" y="421.10" width="2.20" height="2.20" fill="#477b1f"/>
<path d="M668.30 495.00 L656.52 479.37 A19.57 19.57 0 0 1 668.30 474.40" fill="none" stroke="#477b1f" stroke-width="1.00"/>
<rect x="667.20" y="493.90" width="2.20" height="2.20" fill="#477b1f"/>
<rect x="667.20" y="473.30" width="2.20" height="2.20" fill="#477b1f"/>
<path d="M640.10 518.20 L656.98 530.47 A20.87 20.87 0 0 0 662.30 518.20" fill="none" stroke="#477b1f" stroke-width="1.00"/>
<rect x="639.00" y="517.10" width="2.20" height="2.20" fill="#477b1f"/>
<rect x="661.20" y="517.10" width="2.20" height="2.20" fill="#477b1f"/>
<path d="M318.70 519.60 L306.80 535.39 A19.78 19.78 0 0 0 318.70 540.20" fill="none" stroke="#38383a" stroke-width="0.90"/>
<rect x="317.60" y="518.50" width="2.20" height="2.20" fill="#38383a"/>
<rect x="317.60" y="539.10" width="2.20" height="2.20" fill="#38383a"/>
<g transform="translate(328.60 506.90) rotate(0) scale(1.08)">
<path d="M-7.85 0 V5.6 A7.85 6.3 0 0 0 7.85 5.6 V0 Z" fill="#fff" stroke="#231f20" stroke-width="0.80"/>
<path d="M-5.9 3.1 V5.8 A5.9 4.2 0 0 0 5.9 5.8 V3.1 Z" fill="none" stroke="#231f20" stroke-width="0.70"/>
<line x1="0.00" y1="0.40" x2="0.00" y2="5.40" stroke="#231f20" stroke-width="1.50"/>
<line x1="-1.30" y1="4.40" x2="1.30" y2="4.40" stroke="#231f20" stroke-width="1.00"/>
</g>
<g transform="translate(346.60 565.30) rotate(180) scale(1.04)">
<rect x="-5.80" y="0.00" width="11.60" height="4.80" fill="#fff" stroke="#231f20" stroke-width="0.80" rx="1.20"/>
<path d="M-5.6 4.8 V13.2 A5.6 5.8 0 0 0 5.6 13.2 V4.8 Z" fill="#fff" stroke="#231f20" stroke-width="0.80"/>
<rect x="-0.50" y="1.90" width="1.00" height="1.00" fill="#231f20"/>
</g>
<g transform="translate(354.70 565.30) rotate(-90)">
<rect x="0.00" y="0.00" width="52.30" height="20.20" fill="#fff" stroke="#231f20" stroke-width="0.80"/>
<path d="M3.4 1.9 H42.11 A7.79 8.20 0 0 1 42.11 18.30 H3.4 A1.4 1.4 0 0 1 2 16.90 V3.3 A1.4 1.4 0 0 1 3.4 1.9 Z" fill="none" stroke="#231f20" stroke-width="0.80"/>
<line x1="0.60" y1="10.10" x2="6.00" y2="10.10" stroke="#231f20" stroke-width="1.50"/>
<line x1="4.60" y1="8.80" x2="4.60" y2="11.40" stroke="#231f20" stroke-width="1.00"/>
</g>
<rect x="380.60" y="556.50" width="8.90" height="8.50" fill="#fff" stroke="#231f20" stroke-width="0.50"/>
<rect x="381.80" y="557.70" width="6.40" height="6.10" fill="none" stroke="#808285" stroke-width="0.50"/>
<line x1="378.60" y1="553.50" x2="389.50" y2="553.50" stroke="#808285" stroke-width="0.80"/>
<rect x="372.00" y="568.20" width="17.50" height="20.30" fill="#fff" stroke="#231f20" stroke-width="0.50"/>
<rect x="373.60" y="569.60" width="14.00" height="9.90" fill="none" stroke="#231f20" stroke-width="0.80" rx="1.40"/>
<line x1="382.00" y1="574.50" x2="388.00" y2="574.50" stroke="#231f20" stroke-width="1.50"/>
<rect x="396.20" y="556.90" width="16.20" height="19.20" fill="#fff" stroke="#231f20" stroke-width="0.50"/>
<rect x="397.40" y="558.20" width="14.00" height="9.80" fill="none" stroke="#231f20" stroke-width="0.80" rx="1.40"/>
<line x1="397.20" y1="562.90" x2="403.00" y2="562.90" stroke="#231f20" stroke-width="1.50"/>
<rect x="395.80" y="493.80" width="7.40" height="7.00" fill="#fff" stroke="#4d4d4f" stroke-width="0.90" rx="0.80"/>
<rect x="397.00" y="505.00" width="6.80" height="6.40" fill="#fff" stroke="#4d4d4f" stroke-width="0.90" rx="0.80"/>
<rect x="397.00" y="545.30" width="6.80" height="6.40" fill="#fff" stroke="#4d4d4f" stroke-width="0.90" rx="0.80"/>
<g transform="translate(409.80 504.50) rotate(-90)">
<rect x="-5.80" y="0.00" width="11.60" height="4.80" fill="#fff" stroke="#231f20" stroke-width="0.80" rx="1.20"/>
<path d="M-5.6 4.8 V13.2 A5.6 5.8 0 0 0 5.6 13.2 V4.8 Z" fill="#fff" stroke="#231f20" stroke-width="0.80"/>
<rect x="-0.50" y="1.90" width="1.00" height="1.00" fill="#231f20"/>
</g>
<g transform="translate(409.80 524.50) rotate(-90)">
<path d="M-7.85 0 V5.6 A7.85 6.3 0 0 0 7.85 5.6 V0 Z" fill="#fff" stroke="#231f20" stroke-width="0.80"/>
<path d="M-5.9 3.1 V5.8 A5.9 4.2 0 0 0 5.9 5.8 V3.1 Z" fill="none" stroke="#231f20" stroke-width="0.70"/>
<line x1="0.00" y1="0.40" x2="0.00" y2="5.40" stroke="#231f20" stroke-width="1.50"/>
<line x1="-1.30" y1="4.40" x2="1.30" y2="4.40" stroke="#231f20" stroke-width="1.00"/>
</g>
<g transform="translate(409.80 533.40) rotate(0)">
<rect x="0.00" y="0.00" width="52.90" height="19.90" fill="#fff" stroke="#231f20" stroke-width="0.80"/>
<path d="M3.4 1.9 H42.85 A7.65 8.05 0 0 1 42.85 18.00 H3.4 A1.4 1.4 0 0 1 2 16.60 V3.3 A1.4 1.4 0 0 1 3.4 1.9 Z" fill="none" stroke="#231f20" stroke-width="0.80"/>
<line x1="0.60" y1="9.95" x2="6.00" y2="9.95" stroke="#231f20" stroke-width="1.50"/>
<line x1="4.60" y1="8.65" x2="4.60" y2="11.25" stroke="#231f20" stroke-width="1.00"/>
</g>
<g transform="translate(677.90 439.80) rotate(180)">
<path d="M-7.85 0 V5.6 A7.85 6.3 0 0 0 7.85 5.6 V0 Z" fill="#b0d589" stroke="#477b1f" stroke-width="0.80"/>
<path d="M-5.9 3.1 V5.8 A5.9 4.2 0 0 0 5.9 5.8 V3.1 Z" fill="none" stroke="#477b1f" stroke-width="0.70"/>
<line x1="0.00" y1="0.40" x2="0.00" y2="5.40" stroke="#477b1f" stroke-width="1.50"/>
<line x1="-1.30" y1="4.40" x2="1.30" y2="4.40" stroke="#477b1f" stroke-width="1.00"/>
</g>
<g transform="translate(709.30 439.80) rotate(180)">
<rect x="-5.80" y="0.00" width="11.60" height="4.80" fill="#b0d589" stroke="#477b1f" stroke-width="0.80" rx="1.20"/>
<path d="M-5.6 4.8 V13.2 A5.6 5.8 0 0 0 5.6 13.2 V4.8 Z" fill="#b0d589" stroke="#477b1f" stroke-width="0.80"/>
<rect x="-0.50" y="1.90" width="1.00" height="1.00" fill="#477b1f"/>
</g>
<rect x="676.30" y="444.70" width="7.30" height="6.80" fill="none" stroke="#477b1f" stroke-width="0.60"/>
<rect x="703.50" y="444.70" width="7.40" height="6.80" fill="none" stroke="#477b1f" stroke-width="0.60"/>
<rect x="713.50" y="443.60" width="9.50" height="7.90" fill="none" stroke="#477b1f" stroke-width="0.60"/>
<g transform="translate(723.20 467.80) rotate(90)">
<rect x="-5.80" y="0.00" width="11.60" height="4.80" fill="#b0d589" stroke="#477b1f" stroke-width="0.80" rx="1.20"/>
<path d="M-5.6 4.8 V13.2 A5.6 5.8 0 0 0 5.6 13.2 V4.8 Z" fill="#b0d589" stroke="#477b1f" stroke-width="0.80"/>
<rect x="-0.50" y="1.90" width="1.00" height="1.00" fill="#477b1f"/>
</g>
<g transform="translate(723.20 487.40) rotate(90)">
<path d="M-7.85 0 V5.6 A7.85 6.3 0 0 0 7.85 5.6 V0 Z" fill="#b0d589" stroke="#477b1f" stroke-width="0.80"/>
<path d="M-5.9 3.1 V5.8 A5.9 4.2 0 0 0 5.9 5.8 V3.1 Z" fill="none" stroke="#477b1f" stroke-width="0.70"/>
<line x1="0.00" y1="0.40" x2="0.00" y2="5.40" stroke="#477b1f" stroke-width="1.50"/>
<line x1="-1.30" y1="4.40" x2="1.30" y2="4.40" stroke="#477b1f" stroke-width="1.00"/>
</g>
<g transform="translate(722.40 516.00) rotate(180)">
<rect x="0.00" y="0.00" width="52.00" height="19.60" fill="#b0d589" stroke="#477b1f" stroke-width="0.80"/>
<path d="M3.4 1.9 H42.09 A7.50 7.90 0 0 1 42.09 17.70 H3.4 A1.4 1.4 0 0 1 2 16.30 V3.3 A1.4 1.4 0 0 1 3.4 1.9 Z" fill="none" stroke="#477b1f" stroke-width="0.80"/>
<line x1="0.60" y1="9.80" x2="6.00" y2="9.80" stroke="#477b1f" stroke-width="1.50"/>
<line x1="4.60" y1="8.50" x2="4.60" y2="11.10" stroke="#477b1f" stroke-width="1.00"/>
</g>
<rect x="530.50" y="392.20" width="17.00" height="19.40" fill="none" stroke="#477b1f" stroke-width="0.80"/>
<rect x="532.40" y="393.20" width="13.80" height="8.80" fill="none" stroke="#477b1f" stroke-width="0.80" rx="1.20"/>
<line x1="533.00" y1="397.60" x2="537.60" y2="397.60" stroke="#477b1f" stroke-width="1.50"/>
<rect x="531.00" y="418.00" width="7.60" height="7.60" fill="none" stroke="#477b1f" stroke-width="0.70"/>
<rect x="565.70" y="417.40" width="7.80" height="7.80" fill="none" stroke="#477b1f" stroke-width="0.70"/>
<rect x="531.50" y="433.30" width="7.90" height="3.20" fill="#fff" stroke="#231f20" stroke-width="0.50"/>
<rect x="540.00" y="433.30" width="8.50" height="3.20" fill="#fff" stroke="#231f20" stroke-width="0.50"/>
<rect x="549.20" y="433.30" width="7.80" height="3.20" fill="#fff" stroke="#231f20" stroke-width="0.50"/>
<rect x="566.80" y="433.30" width="8.50" height="3.20" fill="#fff" stroke="#231f20" stroke-width="0.50"/>
<rect x="583.80" y="433.30" width="8.50" height="3.20" fill="#fff" stroke="#231f20" stroke-width="0.50"/>
<text x="82.30" y="370.40" font-size="12.60" fill="#231f20" stroke="#231f20" stroke-width="0.25" text-anchor="middle">16,1</text>
<text x="172.40" y="332.00" font-size="12.60" fill="#231f20" stroke="#231f20" stroke-width="0.25" text-anchor="middle">15,8</text>
<text x="275.50" y="327.30" font-size="12.60" fill="#231f20" stroke="#231f20" stroke-width="0.25" text-anchor="middle">15,7</text>
<text x="184.60" y="427.00" font-size="12.60" fill="#231f20" stroke="#231f20" stroke-width="0.25" text-anchor="middle">11,6</text>
<text x="115.70" y="458.40" font-size="12.60" fill="#231f20" stroke="#231f20" stroke-width="0.25" text-anchor="middle">2,7</text>
<text x="201.00" y="474.20" font-size="12.60" fill="#231f20" stroke="#231f20" stroke-width="0.25" text-anchor="middle">2,9</text>
<text x="124.80" y="508.00" font-size="12.60" fill="#231f20" stroke="#231f20" stroke-width="0.25" text-anchor="middle">4,4</text>
<text x="258.20" y="526.00" font-size="12.60" fill="#231f20" stroke="#231f20" stroke-width="0.25" text-anchor="middle">5,9</text>
<text x="332.20" y="536.60" font-size="12.60" fill="#231f20" stroke="#231f20" stroke-width="0.25" text-anchor="middle">4,0</text>
<text x="364.10" y="617.60" font-size="12.60" fill="#231f20" stroke="#231f20" stroke-width="0.25" text-anchor="middle">6,3</text>
<text x="286.40" y="630.60" font-size="12.60" fill="#231f20" stroke="#231f20" stroke-width="0.25" text-anchor="middle">15,9</text>
<text x="181.70" y="649.70" font-size="12.60" fill="#231f20" stroke="#231f20" stroke-width="0.25" text-anchor="middle">19,7</text>
<text x="465.50" y="635.90" font-size="12.60" fill="#231f20" stroke="#231f20" stroke-width="0.25" text-anchor="middle">20,7</text>
<text x="584.00" y="610.60" font-size="12.60" fill="#231f20" stroke="#231f20" stroke-width="0.25" text-anchor="middle">15,1</text>
<text x="449.70" y="519.50" font-size="12.60" fill="#231f20" stroke="#231f20" stroke-width="0.25" text-anchor="middle">5,0</text>
<text x="523.80" y="526.90" font-size="12.60" fill="#231f20" stroke="#231f20" stroke-width="0.25" text-anchor="middle">6,3</text>
<text x="596.80" y="520.80" font-size="12.60" fill="#231f20" stroke="#231f20" stroke-width="0.25" text-anchor="middle">3,1</text>
<text x="581.80" y="330.00" font-size="12.60" fill="#477b1f" stroke="#477b1f" stroke-width="0.35" text-anchor="middle">20,2</text>
<text x="681.60" y="346.70" font-size="12.60" fill="#477b1f" stroke="#477b1f" stroke-width="0.35" text-anchor="middle">14,8</text>
<text x="688.70" y="420.70" font-size="12.60" fill="#477b1f" stroke="#477b1f" stroke-width="0.35" text-anchor="middle">2,6</text>
<text x="635.00" y="459.80" font-size="12.60" fill="#477b1f" stroke="#477b1f" stroke-width="0.35" text-anchor="middle">8,0</text>
<text x="690.30" y="482.50" font-size="12.60" fill="#477b1f" stroke="#477b1f" stroke-width="0.35" text-anchor="middle">3,9</text>
<text x="679.60" y="602.00" font-size="12.60" fill="#477b1f" stroke="#477b1f" stroke-width="0.35" text-anchor="middle">16,9</text>
<circle cx="182.40" cy="606.00" r="22.50" fill="none" stroke="#48484a" stroke-width="1.05"/>
<line x1="159.90" y1="606.00" x2="204.90" y2="606.00" stroke="#58595b" stroke-width="1.30"/>
<text x="182.20" y="601.40" font-size="16.50" fill="#231f20" stroke="#231f20" stroke-width="0.25" text-anchor="middle">3</text>
<text x="182.20" y="618.50" font-size="12.40" fill="#231f20" stroke="#231f20" stroke-width="0.25" text-anchor="middle">88,9</text>
<circle cx="287.00" cy="587.00" r="22.20" fill="none" stroke="#48484a" stroke-width="1.05"/>
<line x1="264.80" y1="587.00" x2="309.20" y2="587.00" stroke="#58595b" stroke-width="1.30"/>
<text x="286.80" y="582.40" font-size="16.50" fill="#231f20" stroke="#231f20" stroke-width="0.25" text-anchor="middle">1C</text>
<text x="286.80" y="599.50" font-size="12.40" fill="#231f20" stroke="#231f20" stroke-width="0.25" text-anchor="middle">32,1</text>
<circle cx="467.10" cy="591.40" r="22.30" fill="none" stroke="#48484a" stroke-width="1.05"/>
<line x1="444.80" y1="591.40" x2="489.40" y2="591.40" stroke="#58595b" stroke-width="1.30"/>
<text x="466.90" y="586.80" font-size="16.50" fill="#231f20" stroke="#231f20" stroke-width="0.25" text-anchor="middle">1</text>
<text x="466.90" y="603.90" font-size="12.40" fill="#231f20" stroke="#231f20" stroke-width="0.25" text-anchor="middle">50,2</text>
<circle cx="681.50" cy="302.00" r="22.00" fill="none" stroke="#477b1f" stroke-width="1.05"/>
<line x1="659.50" y1="302.00" x2="703.50" y2="302.00" stroke="#477b1f" stroke-width="1.30"/>
<text x="681.30" y="297.40" font-size="16.50" fill="#477b1f" stroke="#477b1f" stroke-width="0.35" text-anchor="middle">2</text>
<text x="681.30" y="314.50" font-size="12.40" fill="#477b1f" stroke="#477b1f" stroke-width="0.35" text-anchor="middle">66,4</text>
</svg>
</body></html>
